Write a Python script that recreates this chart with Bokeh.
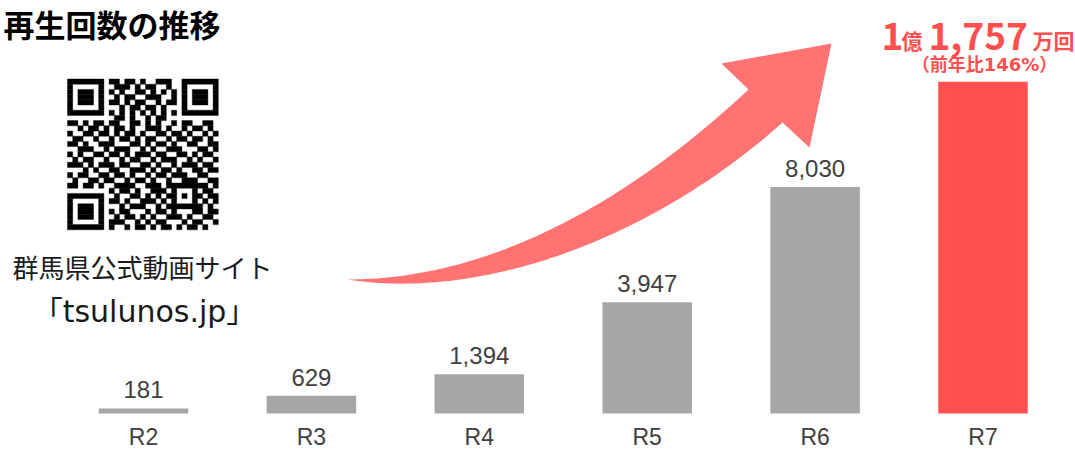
import numpy as np
from bokeh.plotting import figure
from bokeh.models import Range1d
from bokeh.core.properties import value
from bokeh.embed import file_html
from bokeh.resources import INLINE

# ---------------- data ----------------
categories = ["R2", "R3", "R4", "R5", "R6", "R7"]
views = [181, 629, 1394, 3947, 8030, 11757]          # 万回
value_labels = [f"{v:,}" for v in views[:-1]]
total_parts = ["1", "億", "1,757", "万回"]
growth_text = "（前年比146%）"
title_text = "再生回数の推移"
caption_lines = ["群馬県公式動画サイト", "「tsulunos.jp」"]

QR_ROWS = [
    "00000000110110100111000000000",
    "00000000011101011001000000000",
    "00000000101001101010100000000",
    "00000000010110011100100000000",
    "00000000110101100101100000000",
    "00000000001011011010000000000",
    "00000000000000000000000000000",
    "00000000011010010110000000000",
    "11010110110011010100101100110",
    "00101101011010011101001011010",
    "10011011010110100110110100101",
    "01100100101101011001011011010",
    "11010011100011010110100110011",
    "00111001011100101001110001101",
    "10100110110101110110011010110",
    "01011001001011001011100101001",
    "11101011101100110100101110110",
    "00010100110011101011010011011",
    "10110011011010010110111001100",
    "01001101100101101001001110011",
    "11011010011110011101100101101",
    "00000000101101001110110010110",
    "00000000010011010101011001011",
    "00000000110100111010100110101",
    "00000000001011100101011101010",
    "00000000101100010110100011011",
    "00000000010110101001110100110",
    "00000000111001010110001011001",
    "00000000100101101011010110100",
]

# ---------------- layout constants ----------------
W, H = 1075, 450
BASE_PX = 413
PX_PER_UNIT = 0.02821
X0_PX, STEP_PX, BAR_PX = 143, 167.9, 89.5
GRAY, RED, ARROW = "#A6A6A6", "#FF5050", "#FF7373"
LABEL = "#404040"
JP = value("Noto Sans CJK JP")
LAT = value("Liberation Sans")
WIDE = value("DejaVu Sans, Noto Sans CJK JP")

idx = list(range(len(categories)))
bar_colors = [RED if c == categories[-1] else GRAY for c in categories]

p = figure(width=W, height=H,
           x_range=Range1d(-X0_PX / STEP_PX, (W - X0_PX) / STEP_PX),
           y_range=Range1d(-(H - BASE_PX) / PX_PER_UNIT, BASE_PX / PX_PER_UNIT),
           output_backend="svg", toolbar_location=None, tools="",
           x_axis_location=None, y_axis_location=None,
           min_border=0, outline_line_color=None,
           background_fill_color="white", border_fill_color="white")
p.grid.grid_line_color = None
p.extra_x_ranges = {"px": Range1d(0, W)}
p.extra_y_ranges = {"px": Range1d(H, 0)}

PX = dict(x_range_name="px", y_range_name="px")

# ---------------- arrow ----------------
def bezier(pts, n=80):
    P = np.array(pts, float)
    t = np.linspace(0, 1, n)[:, None]
    B = ((1 - t) ** 3) * P[0] + 3 * ((1 - t) ** 2) * t * P[1] + 3 * (1 - t) * t ** 2 * P[2] + t ** 3 * P[3]
    return B[:, 0].tolist(), B[:, 1].tolist()

ux, uy = bezier([(347, 279), (500, 279), (640, 190), (748, 89)])
lx, ly = bezier([(782, 122), (650, 240), (480, 300), (347, 279)])
ax = ux + [721, 831, 809] + lx
ay = uy + [63, 43, 147] + ly
p.patch(ax, ay, fill_color=ARROW, line_color=None, **PX)

# ---------------- bars ----------------
p.vbar(x=idx, top=views, width=BAR_PX / STEP_PX, fill_color=bar_colors, line_color=None)

p.text(x=idx[:-1], y=views[:-1], text=value_labels, text_align="center",
       text_baseline="alphabetic", y_offset=-18.5, text_font=LAT,
       text_font_size="24px", text_color=LABEL)
p.text(x=idx, y=[0] * len(idx), text=categories, text_align="center",
       text_baseline="alphabetic", y_offset=23.5, text_font=LAT,
       text_font_size="23px", text_color=LABEL)

# ---------------- QR code ----------------
N = 29
M = np.array([[int(ch) for ch in r.ljust(N, "0")[:N]] for r in QR_ROWS[:N]])
def finder(r0, c0):
    for r in range(-1, 8):
        for c in range(-1, 8):
            rr, cc = r0 + r, c0 + c
            if 0 <= rr < N and 0 <= cc < N:
                on = (0 <= r <= 6 and 0 <= c <= 6) and (r in (0, 6) or c in (0, 6) or (2 <= r <= 4 and 2 <= c <= 4))
                M[rr, cc] = 1 if on else 0
for r0, c0 in [(0, 0), (0, N - 7), (N - 7, 0)]:
    finder(r0, c0)
for k in range(8, N - 8):
    M[6, k] = 1 if k % 2 == 0 else 0
    M[k, 6] = 1 if k % 2 == 0 else 0
for r in range(-2, 3):
    for c in range(-2, 3):
        M[22 + r, 22 + c] = 1 if (abs(r) == 2 or abs(c) == 2 or (r == 0 and c == 0)) else 0
M[N - 8, 8] = 1

QX, QY, QS = 67, 78.5, 5.2
l, r_, t, b = [], [], [], []
for ri in range(N):
    c = 0
    while c < N:
        if M[ri, c]:
            c1 = c
            while c1 < N and M[ri, c1]:
                c1 += 1
            l.append(QX + c * QS); r_.append(QX + c1 * QS)
            t.append(QY + ri * QS); b.append(QY + (ri + 1) * QS)
            c = c1
        else:
            c += 1
p.quad(left=l, right=r_, top=t, bottom=b, fill_color="black",
       line_color="black", line_width=0.4, **PX)

# ---------------- texts ----------------
p.text(x=[3], y=[0], text=[title_text], text_font=JP, text_font_style="bold",
       text_font_size="31px", text_color="black", text_align="left",
       text_baseline="top", **PX)

p.text(x=[142], y=[266], text=[caption_lines[0]], text_font=JP,
       text_font_size="26px", text_color="#1a1a1a", text_align="center",
       text_baseline="middle", **PX)
p.text(x=[144], y=[311], text=[caption_lines[1]], text_font=WIDE,
       text_font_size="30px", text_color="#1a1a1a", text_align="center",
       text_baseline="middle", **PX)

p.text(x=[881, 928], y=[36, 36], text=[total_parts[0], total_parts[2]], text_font=JP,
       text_font_style="bold", text_font_size="37px", text_color=RED,
       text_align="left", text_baseline="alphabetic", **PX)
p.text(x=[901, 1032], y=[39.5, 39.5], text=[total_parts[1], total_parts[3]], text_font=JP,
       text_font_style="bold", text_font_size="21px", text_color=RED,
       text_align="left", text_baseline="alphabetic", **PX)
p.text(x=[984], y=[64], text=[growth_text], text_font=WIDE, text_font_style="bold",
       text_font_size="18px", text_color=RED, text_align="center",
       text_baseline="middle", **PX)

open("out.html", "w").write(file_html(p, INLINE))
